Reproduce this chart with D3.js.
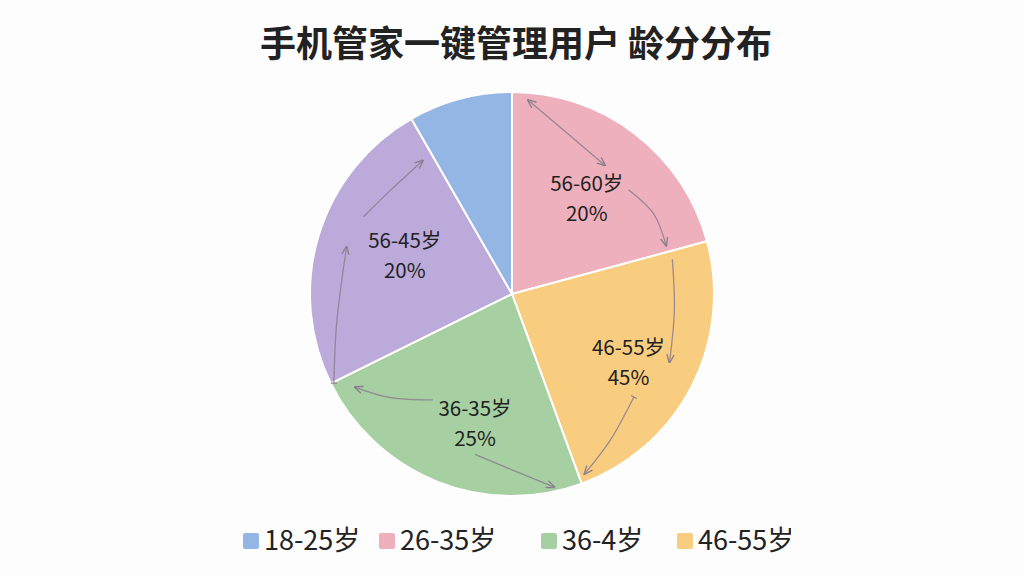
<!DOCTYPE html>
<html><head><meta charset="utf-8">
<script src="https://cdn.jsdelivr.net/npm/d3@7"></script>
<style>
html,body{margin:0;padding:0;background:#fdfdfd;}
svg{display:block;}
</style></head>
<body>
<svg id="chart" width="1024" height="576"></svg>
<script>
// ---- data ----
const title = "手机管家一键管理用户 龄分分布";
// pie slices, clockwise from 12 o'clock
const sliceKeys   = ["pink", "yellow", "green", "purple", "blue"];
const sliceValues = [20.8, 23.6, 23.3, 24.0, 8.3];
const sliceNames  = ["56-60岁", "46-55岁", "36-35岁", "56-45岁", ""];
const slicePcts   = ["20%", "45%", "25%", "20%", ""];
const sliceColors = ["#eeb0bd", "#f8cd80", "#a6d0a2", "#bcaadb", "#94b6e4"];
// legend
const legendLabels = ["18-25岁", "26-35岁", "36-4岁", "46-55岁"];
const legendColors = ["#94b6e4", "#eeb0bd", "#a6d0a2", "#f8cd80"];

// ---- layout ----
const W = 1024, H = 576;
const cx = 512, cy = 294, R = 202;
const svg = d3.select("#chart");
const font = "'Noto Sans CJK SC','Noto Sans',sans-serif";

svg.append("text")
  .attr("x", 516).attr("y", 57)
  .attr("text-anchor", "middle")
  .attr("font-family", font)
  .attr("font-size", 36).attr("font-weight", 700)
  .attr("fill", "#222")
  .text(title);

const data = sliceKeys.map((k, i) => ({key: k, value: sliceValues[i], name: sliceNames[i], pct: slicePcts[i], color: sliceColors[i]}));
const pie = d3.pie().sort(null).value(d => d.value).startAngle(0).endAngle(2 * Math.PI);
const arcs = pie(data);
const arc = d3.arc().innerRadius(0).outerRadius(R);

const g = svg.append("g").attr("transform", `translate(${cx},${cy})`);
g.selectAll("path.slice").data(arcs).join("path")
  .attr("class", "slice")
  .attr("d", arc)
  .attr("fill", d => d.data.color)
  .attr("stroke", "#ffffff").attr("stroke-width", 2);

// decorative arrows (polar: angle deg clockwise from top, radius fraction)
const defs = svg.append("defs");
defs.append("marker").attr("id", "ah")
  .attr("viewBox", "0 -5 10 10").attr("refX", 9).attr("refY", 0)
  .attr("markerWidth", 7).attr("markerHeight", 7).attr("orient", "auto-start-reverse")
  .append("path").attr("d", "M0,-4L10,0L0,4").attr("fill", "none")
  .attr("stroke", "#8c7f8e").attr("stroke-width", 1.5);
defs.append("marker").attr("id", "tk")
  .attr("viewBox", "0 -5 4 10").attr("refX", 2).attr("refY", 0)
  .attr("markerWidth", 4).attr("markerHeight", 6).attr("orient", "auto")
  .append("path").attr("d", "M2,-4L2,4").attr("stroke", "#8c7f8e").attr("stroke-width", 1.5);

const arrows = [
  {pts: [[4.7, .964], [18.6, .843], [35.9, .786]], both: true},
  {pts: [[48.3, .774], [60.5, .806], [72.6, .80]]},
  {pts: [[77.8, .812], [95.9, .808], [113.5, .85]]},
  {pts: [[130.2, .79], [145.8, .87], [158.1, .961]], tick: true},
  {pts: [[216.8, .655], [229.5, .79], [239.4, .905]]},
  {pts: [[192.9, .815], [179, .877], [167.6, .979]]},
  {pts: [[243.4, .986], [261.3, .877], [286, .852]], tick: true},
  {pts: [[297.5, .829], [311.2, .79], [326.3, .795]]}
];
const toXY = p => {
  const a = p[0] * Math.PI / 180, r = p[1] * R;
  return [r * Math.sin(a), -r * Math.cos(a)];
};
const line = d3.line().curve(d3.curveNatural);
g.selectAll("path.arrow").data(arrows).join("path")
  .attr("class", "arrow")
  .attr("d", d => line(d.pts.map(toXY)))
  .attr("fill", "none")
  .attr("stroke", "#8c7f8e").attr("stroke-width", 1.3).attr("stroke-opacity", 0.85)
  .attr("marker-end", "url(#ah)")
  .attr("marker-start", d => d.both ? "url(#ah)" : (d.tick ? "url(#tk)" : null));

// labels: placed along each slice's mid-angle (with small angle shift / radius tweaks)
const labelTweak = [[0, 123], [2.3, 134], [-5.5, 132], [4.2, 115]];
const labelPos = (d, i) => {
  const a = (d.startAngle + d.endAngle) / 2 + labelTweak[i][0] * Math.PI / 180;
  const r = labelTweak[i][1];
  return [r * Math.sin(a), -r * Math.cos(a)];
};
const lab = g.selectAll("text.lab").data(arcs.filter(d => d.data.name)).join("text")
  .attr("class", "lab")
  .attr("transform", (d, i) => `translate(${labelPos(d, i)})`)
  .attr("text-anchor", "middle")
  .attr("font-family", font).attr("font-size", 20.5).attr("fill", "#222");
lab.append("tspan").attr("x", 0).attr("y", -5).text(d => d.data.name);
lab.append("tspan").attr("x", 0).attr("y", 25).text(d => d.data.pct);

// legend
const legendX = [243, 379, 541, 677];
defs.append("clipPath").attr("id", "lclip").append("rect")
  .attr("x", 0).attr("y", 500).attr("width", 791).attr("height", 76);
const lg = svg.append("g").attr("clip-path", "url(#lclip)");
const items = lg.selectAll("g.li").data(legendLabels).join("g")
  .attr("class", "li")
  .attr("transform", (d, i) => `translate(${legendX[i]},533)`);
items.append("rect").attr("width", 16).attr("height", 16).attr("rx", 2)
  .attr("fill", (d, i) => legendColors[i]);
items.append("text").attr("x", 21).attr("y", 17)
  .attr("font-family", font).attr("font-size", 27).attr("fill", "#222")
  .text(d => d);
</script>
</body></html>
